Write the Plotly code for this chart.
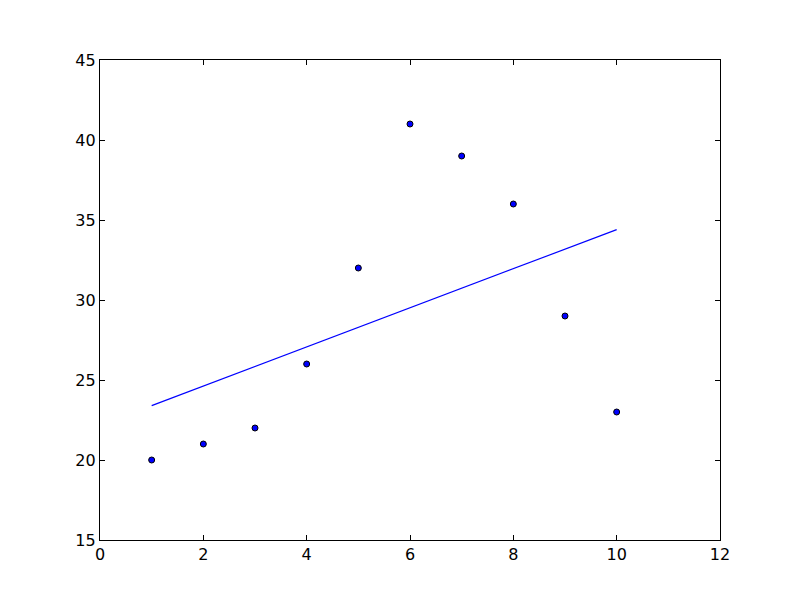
import plotly.graph_objects as go

# scatter points
x_pts = [1, 2, 3, 4, 5, 6, 7, 8, 9, 10]
y_pts = [20, 21, 22, 26, 32, 41, 39, 36, 29, 23]

# fitted line endpoints
x_fit = [1, 10]
y_fit = [23.4, 34.4]

x_ticks = [0, 2, 4, 6, 8, 10, 12]
y_ticks = [15, 20, 25, 30, 35, 40, 45]

fig = go.Figure()
fig.add_trace(go.Scatter(x=x_fit, y=y_fit, mode='lines',
                         line=dict(color='blue', width=1.2)))
fig.add_trace(go.Scatter(x=x_pts, y=y_pts, mode='markers',
                         marker=dict(color='blue', size=6,
                                     line=dict(color='black', width=1))))

axis_style = dict(showline=True, linecolor='black', linewidth=1.2, mirror='allticks',
                  ticks='inside', ticklen=5, tickcolor='black', tickwidth=1,
                  showgrid=False, zeroline=False,
                  tickfont=dict(family='DejaVu Sans', size=16, color='black'))

fig.update_xaxes(range=[0, 12], tickvals=x_ticks, **axis_style)
fig.update_yaxes(range=[15, 45], tickvals=y_ticks, **axis_style)

# the page body adds 8px, so the margins are shifted to keep the plot box in place
fig.update_layout(width=800, height=600, showlegend=False,
                  plot_bgcolor='white', paper_bgcolor='white',
                  margin=dict(l=92, r=88, t=52, b=68))

fig.write_html("out.html")
